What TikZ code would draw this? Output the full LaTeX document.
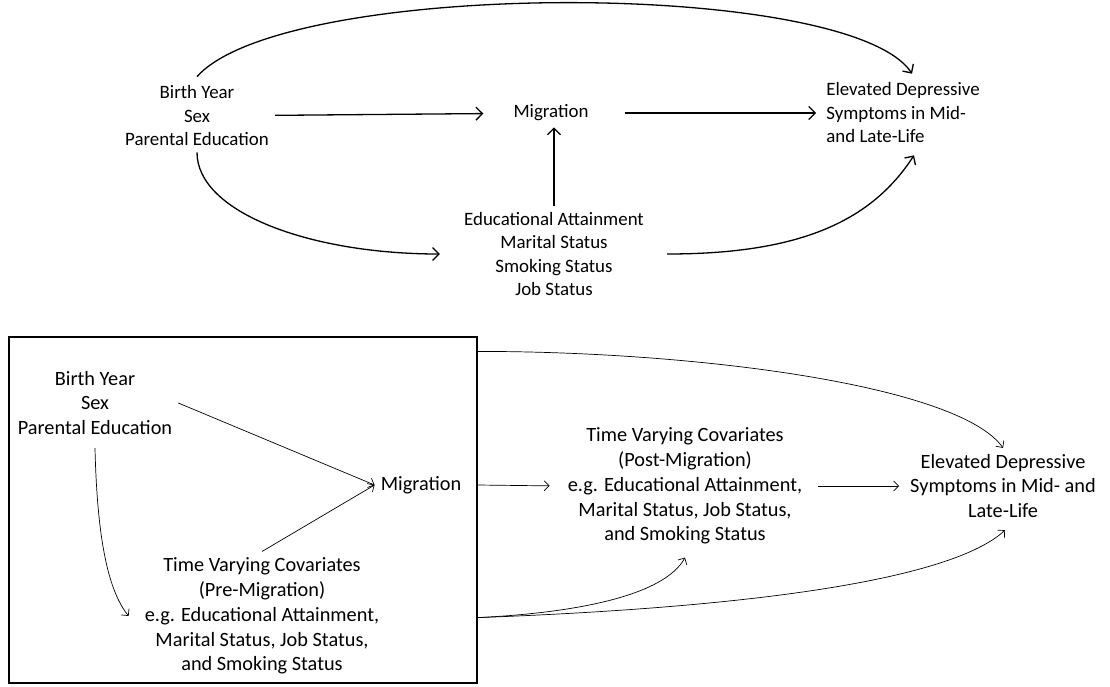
\documentclass[tikz,border=0pt]{standalone}
\usepackage{fontspec}
\setmainfont{Carlito}
\usetikzlibrary{arrows.meta}
\tikzset{
  var/.style={align=center, inner sep=6pt, font=\fontsize{18.9}{23.5}\selectfont},
  varB/.style={var, font=\fontsize{20.3}{24.8}\selectfont},
  thk/.style={black, line width=1.3pt, -{Straight Barb[length=6.5pt,width=13pt]}},
  thn/.style={black, line width=0.7pt, -{Straight Barb[length=5pt,width=10pt]}},
  frame/.style={draw, line width=1.2pt, minimum width=468pt, minimum height=346pt, inner sep=0pt}
}
\begin{document}
\begin{tikzpicture}[x=1pt,y=-1pt]
        \useasboundingbox (0,0) rectangle (1110,686);
        \node[var] (bgA) at (197,116) {Birth Year\\Sex\\Parental Education};
        \node[var] (migA) at (551,113) {Migration};
        \node[var] (covA) at (554,254) {Educational Attainment\\Marital Status\\Smoking Status\\Job Status};
        \node[var, align=left] (depA) at (903,113) {Elevated Depressive\\Symptoms in Mid-\\and Late-Life};
        \draw[thk, shorten >=24pt] (bgA) -- (migA);
        \draw[thk, shorten <=30pt, shorten >=4pt] (migA) -- (depA);
        \draw[thk] (covA.north) -- (covA.north |- migA.south);
        \draw[thk] ([yshift=3pt]bgA.north) .. controls +(87,-98) and +(-63,-95) .. ([xshift=9pt,yshift=3pt]depA.north);
        \draw[thk] (bgA.south) .. controls +(0,60) and +(-130,0) .. ([xshift=-18pt]covA.west);
        \draw[thk] ([xshift=17pt]covA.east) .. controls +(129,0) and +(-44,68) .. ([xshift=11pt,yshift=-6pt]depA.south);
        \node[frame] (boxB) at (243,510) {};
        \node[varB] (bgB) at (95,403) {Birth Year\\Sex\\Parental Education};
        \node[varB] (migB) at (421,485) {Migration};
        \node[varB] (preB) at (262,616) {Time Varying Covariates\\(Pre-Migration)\\e.g. Educational Attainment,\\Marital Status, Job Status,\\and Smoking Status};
        \node[varB] (postB) at (685,486) {Time Varying Covariates\\(Post-Migration)\\e.g. Educational Attainment,\\Marital Status, Job Status,\\and Smoking Status};
        \node[varB] (depB) at (1003,486) {Elevated Depressive\\Symptoms in Mid- and\\Late-Life};
        \draw[thn] (bgB.east) -- (migB.west);
        \draw[thn] (preB.north) -- (migB.west);
        \draw[thn] ([yshift=-7pt]bgB.south) .. controls +(2,84) and +(-22,-27) .. ([xshift=-10pt]preB.west);
        \draw[thn, shorten >=12pt] (migB -| boxB.east) -- (postB.west);
        \draw[thn, shorten <=10pt, shorten >=5pt] (postB) -- (depB);
        \draw[thn] ([yshift=-15pt]boxB.north east) .. controls +(223,0) and +(-44,-62) .. (depB.north);
        \draw[thn] ([yshift=66pt]boxB.south east) .. controls +(103,-5) and +(-20,37) .. ([yshift=-7pt]postB.south);
        \draw[thn] ([yshift=66pt]boxB.south east) .. controls +(323,-12) and +(-45,42) .. ([xshift=2pt,yshift=-6pt]depB.south);
    \end{tikzpicture}
\end{document}
